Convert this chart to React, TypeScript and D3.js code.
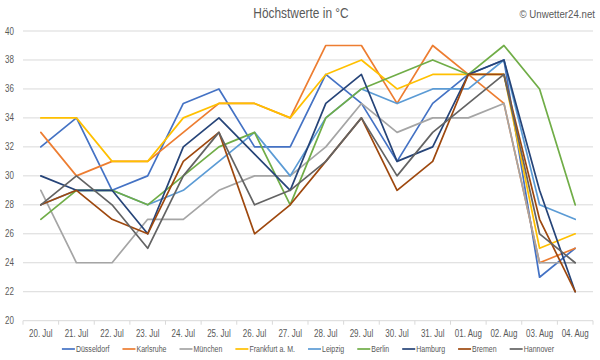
import React from 'react';
import * as d3 from 'd3';

const categories = ['20. Jul', '21. Jul', '22. Jul', '23. Jul', '24. Jul', '25. Jul', '26. Jul', '27. Jul', '28. Jul', '29. Jul', '30. Jul', '31. Jul', '01. Aug', '02. Aug', '03. Aug', '04. Aug'];
const seriesNames = ['Düsseldorf', 'Karlsruhe', 'München', 'Frankfurt a. M.', 'Leipzig', 'Berlin', 'Hamburg', 'Bremen', 'Hannover'];
const seriesColors = ['#4472C4', '#ED7D31', '#A5A5A5', '#FFC000', '#5B9BD5', '#70AD47', '#264478', '#9E480E', '#636363'];

const duesseldorf = [32, 34, 29, 30, 35, 36, 32, 32, 37, 35, 31, 35, 37, 38, 23, 25];
const karlsruhe = [33, 30, 31, 31, 33, 35, 35, 34, 39, 39, 35, 39, 37, 35, 24, 25];
const muenchen = [29, 24, 24, 27, 27, 29, 30, 30, 32, 35, 33, 34, 34, 35, 24, 24];
const frankfurt = [34, 34, 31, 31, 34, 35, 35, 34, 37, 38, 36, 37, 37, 37, 25, 26];
const leipzig = [28, 29, 29, 28, 29, 31, 33, 30, 34, 36, 35, 36, 36, 38, 28, 27];
const berlin = [27, 29, 29, 28, 30, 32, 33, 28, 34, 36, 37, 38, 37, 39, 36, 28];
const hamburg = [30, 29, 29, 26, 32, 34, 31.5, 29, 35, 37, 31, 32, 37, 38, 29, 22];
const bremen = [28, 29, 27, 26, 31, 33, 26, 28, 31, 34, 29, 31, 37, 37, 27, 22];
const hannover = [28, 30, 28, 25, 30, 33, 28, 29, 31, 34, 30, 33, 35, 37, 26, 24];

const yTicks = [20, 22, 24, 26, 28, 30, 32, 34, 36, 38, 40];

const seriesValues = [duesseldorf, karlsruhe, muenchen, frankfurt, leipzig, berlin, hamburg, bremen, hannover];

const W = 600;
const H = 360;
const FONT = "'Liberation Sans', Arial, sans-serif";
const TXT = '#595959';
const SX = 0.8;

function measure(text: string, size: number): number {
  if (typeof document === 'undefined') return text.length * size * 0.5;
  const c = document.createElement('canvas');
  const ctx = c.getContext('2d');
  if (!ctx) return text.length * size * 0.5;
  ctx.font = `${size}px ${FONT}`;
  return ctx.measureText(text).width;
}

type NTProps = { x: number; y: number; size: number; anchor?: string; sx?: number; children: React.ReactNode; dy?: string };
function NText({ x, y, size, anchor = 'start', sx = SX, children, dy }: NTProps) {
  return (
    <g transform={`translate(${x},${y}) scale(${sx},1)`}>
      <text x={0} y={0} dy={dy} textAnchor={anchor} fontSize={size} fill={TXT}>{children}</text>
    </g>
  );
}

export default function App() {
  const left = 23;
  const right = 593;
  const top = 31;
  const bottom = 320.7;

  const x = d3.scaleBand<string>().domain(categories).range([left, right]).padding(0);
  const y = d3.scaleLinear().domain([20, 40]).range([bottom, top]);
  const cx = (c: string) => (x(c) as number) + x.bandwidth() / 2;

  const line = d3
    .line<number>()
    .x((_, i) => cx(categories[i]))
    .y((d) => y(d));

  const legendFont = 9;
  const legendSX = 0.78;
  const lineLen = 13;
  const gapAfterLine = 1;
  const itemGap = 13;
  const widths = seriesNames.map((n) => lineLen + gapAfterLine + measure(n, legendFont) * legendSX);
  const total = d3.sum(widths) + itemGap * (seriesNames.length - 1);
  let lx = (left + right) / 2 - total / 2;
  const legendItems = seriesNames.map((n, i) => {
    const item = { name: n, color: seriesColors[i], x: lx };
    lx += widths[i] + itemGap;
    return item;
  });
  const legendY = 349;

  const boundaries = [...categories.map((c) => x(c) as number), right];

  return (
    <svg width={W} height={H} style={{ position: 'absolute', left: 0, top: 0, background: '#fff' }} fontFamily={FONT}>
      <rect x={0} y={0} width={W} height={H} fill="#fff" />
      <NText x={301} y={18} size={14} anchor="middle" sx={0.85}>Höchstwerte in °C</NText>
      <NText x={595} y={18} size={11} anchor="end" sx={0.88}>© Unwetter24.net</NText>

      {yTicks.map((t) => (
        <g key={t}>
          {t !== 20 && <line x1={left} x2={right} y1={y(t)} y2={y(t)} stroke="#D9D9D9" strokeWidth={1} />}
          <NText x={14} y={y(t)} dy="0.35em" anchor="end" size={10}>{t}</NText>
        </g>
      ))}
      <line x1={left} x2={right} y1={bottom} y2={bottom} stroke="#D9D9D9" strokeWidth={1} />
      {boundaries.map((b, i) => (
        <line key={i} x1={b} x2={b} y1={bottom} y2={bottom + 4} stroke="#D9D9D9" strokeWidth={1} />
      ))}
      {categories.map((c) => (
        <NText key={c} x={cx(c)} y={337} anchor="middle" size={10}>{c}</NText>
      ))}

      {seriesValues.map((vals, i) => (
        <path key={seriesNames[i]} d={line(vals) || ''} fill="none" stroke={seriesColors[i]} strokeWidth={1.7} strokeLinejoin="round" strokeLinecap="round" />
      ))}

      {legendItems.map((it) => (
        <g key={it.name}>
          <line x1={it.x} x2={it.x + lineLen} y1={legendY} y2={legendY} stroke={it.color} strokeWidth={1.7} />
          <NText x={it.x + lineLen + gapAfterLine} y={legendY} dy="0.35em" size={legendFont} sx={legendSX}>{it.name}</NText>
        </g>
      ))}
    </svg>
  );
}
